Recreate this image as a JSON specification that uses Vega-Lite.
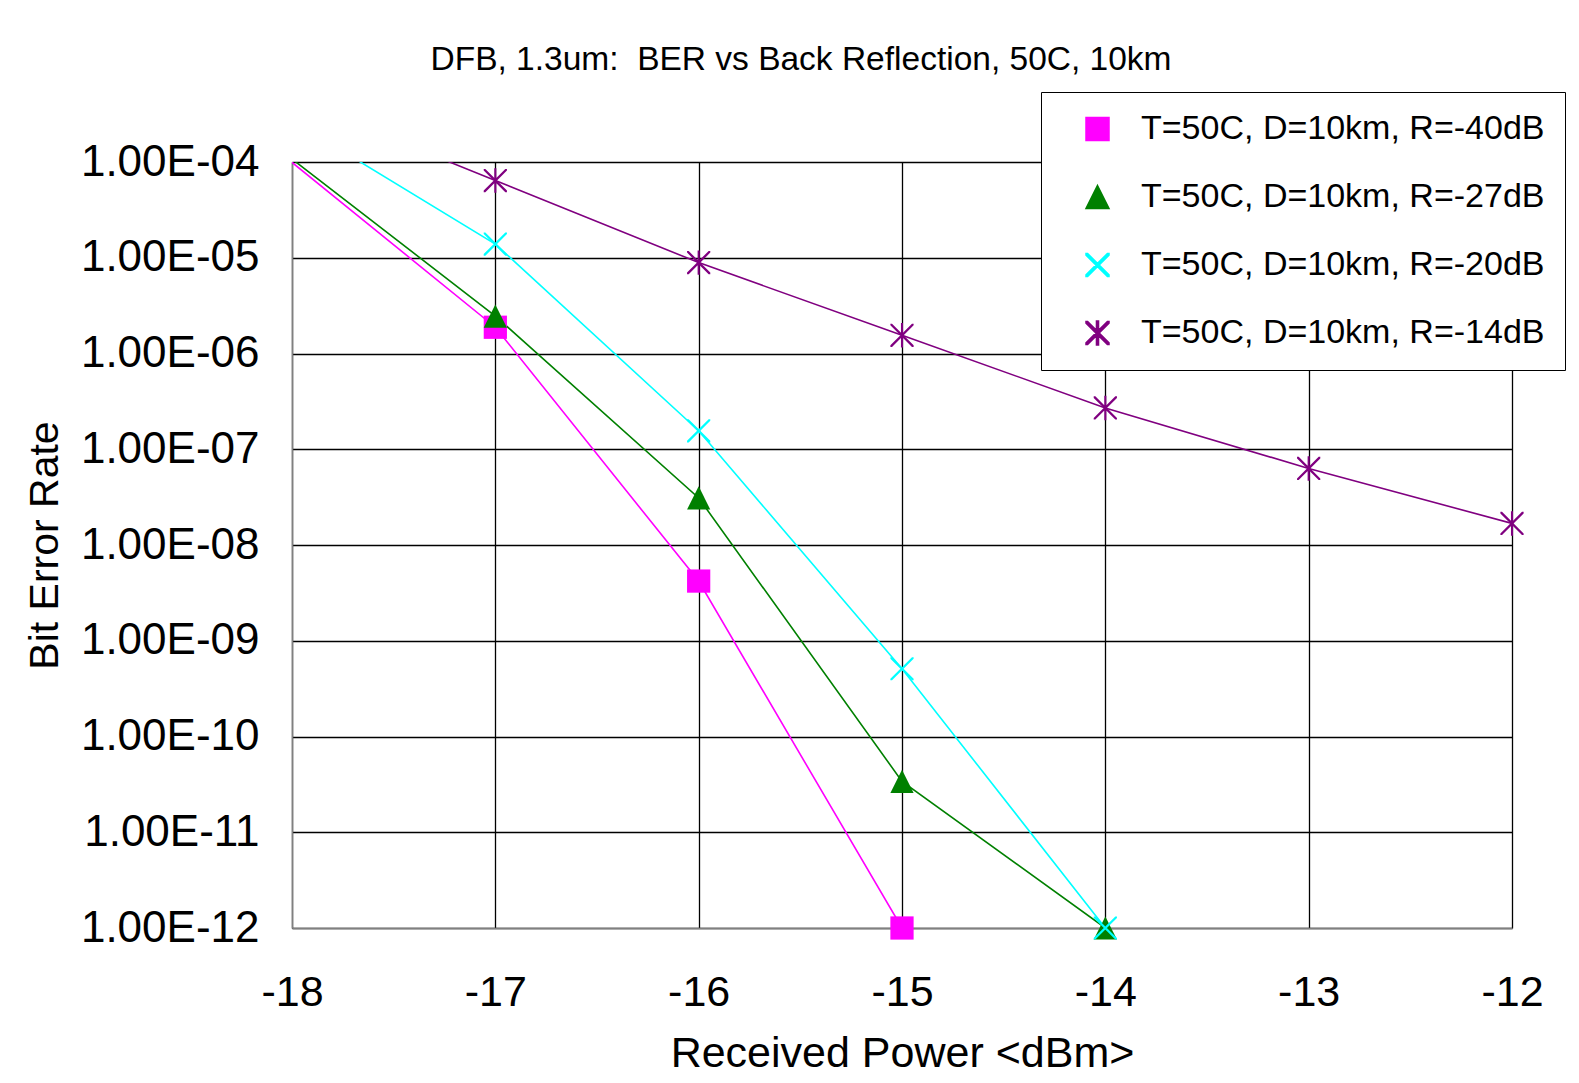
{
  "$schema": "https://vega.github.io/schema/vega-lite/v6.json",
  "width": 1220,
  "height": 766,
  "autosize": {"type": "none"},
  "padding": {"left": 292, "top": 162, "right": 67, "bottom": 155},
  "background": "white",
  "config": {
    "font": "Liberation Sans",
    "view": {"stroke": null},
    "axis": {
      "grid": true,
      "gridColor": "black",
      "gridWidth": 1.3,
      "gridOpacity": 1,
      "ticks": false,
      "tickSize": 0,
      "labelFlush": false,
      "labelOverlap": false,
      "domainColor": "#808080",
      "domainWidth": 1.5,
      "labelColor": "black",
      "titleColor": "black",
      "labelFont": "Liberation Sans",
      "titleFont": "Liberation Sans",
      "titleFontWeight": "normal"
    }
  },
  "title": {
    "text": "DFB, 1.3um:\u00a0 BER vs Back Reflection, 50C, 10km",
    "fontSize": 33.5,
    "font": "Liberation Sans",
    "fontWeight": "normal",
    "color": "black",
    "anchor": "middle",
    "frame": "group",
    "baseline": "alphabetic",
    "dx": -101,
    "offset": -12
  },
  "data": {
    "values": [
      {"x": -18.5, "ber": 7.2e-4, "series": "T=50C, D=10km, R=-40dB"},
      {"x": -17, "ber": 1.88e-6, "series": "T=50C, D=10km, R=-40dB"},
      {"x": -16, "ber": 4.2e-9, "series": "T=50C, D=10km, R=-40dB"},
      {"x": -15, "ber": 1e-12, "series": "T=50C, D=10km, R=-40dB"},
      {"x": -18.5, "ber": 7.1e-4, "series": "T=50C, D=10km, R=-27dB"},
      {"x": -17, "ber": 2.46e-6, "series": "T=50C, D=10km, R=-27dB"},
      {"x": -16, "ber": 3.1e-8, "series": "T=50C, D=10km, R=-27dB"},
      {"x": -15, "ber": 3.4e-11, "series": "T=50C, D=10km, R=-27dB"},
      {"x": -14, "ber": 1e-12, "series": "T=50C, D=10km, R=-27dB"},
      {"x": -18.5, "ber": 1.2e-3, "series": "T=50C, D=10km, R=-20dB"},
      {"x": -17, "ber": 1.39e-5, "series": "T=50C, D=10km, R=-20dB"},
      {"x": -16, "ber": 1.56e-7, "series": "T=50C, D=10km, R=-20dB"},
      {"x": -15, "ber": 5.1e-10, "series": "T=50C, D=10km, R=-20dB"},
      {"x": -14, "ber": 1e-12, "series": "T=50C, D=10km, R=-20dB"},
      {"x": -18.5, "ber": 1.25e-3, "series": "T=50C, D=10km, R=-14dB"},
      {"x": -17, "ber": 6.4e-5, "series": "T=50C, D=10km, R=-14dB"},
      {"x": -16, "ber": 8.9e-6, "series": "T=50C, D=10km, R=-14dB"},
      {"x": -15, "ber": 1.55e-6, "series": "T=50C, D=10km, R=-14dB"},
      {"x": -14, "ber": 2.7e-7, "series": "T=50C, D=10km, R=-14dB"},
      {"x": -13, "ber": 6.3e-8, "series": "T=50C, D=10km, R=-14dB"},
      {"x": -12, "ber": 1.68e-8, "series": "T=50C, D=10km, R=-14dB"}
    ]
  },
  "encoding": {
    "x": {
      "field": "x",
      "type": "quantitative",
      "scale": {"domain": [-18, -12], "nice": false, "zero": false},
      "axis": {
        "values": [-18, -17, -16, -15, -14, -13, -12],
        "labelExpr": "'' + datum.value",
        "labelFontSize": 43,
        "labelPadding": 43,
        "title": "Received Power <dBm>",
        "titleFontSize": 43,
        "titlePadding": 18
      }
    },
    "y": {
      "field": "ber",
      "type": "quantitative",
      "scale": {"type": "log", "domain": [1e-12, 1e-4], "nice": false},
      "axis": {
        "values": [1e-12, 1e-11, 1e-10, 1e-9, 1e-8, 1e-7, 1e-6, 1e-5, 1e-4],
        "labelExpr": "'1.00E-' + (round(-log(datum.value)/LN10) < 10 ? '0' : '') + round(-log(datum.value)/LN10)",
        "labelFontSize": 44,
        "labelPadding": 33,
        "labelBaseline": "middle",
        "title": "Bit Error Rate",
        "titleFontSize": 41,
        "titlePadding": 26
      }
    }
  },
  "layer": [
    {
      "mark": {"type": "line", "clip": true, "strokeWidth": 1.6},
      "encoding": {
        "stroke": {
          "field": "series",
          "type": "nominal",
          "scale": {
            "domain": ["T=50C, D=10km, R=-40dB", "T=50C, D=10km, R=-27dB", "T=50C, D=10km, R=-20dB", "T=50C, D=10km, R=-14dB"],
            "range": ["#FF00FF", "#008000", "#00FFFF", "#800080"]
          }
        }
      }
    },
    {
      "transform": [{"filter": "datum.x >= -18"}],
      "mark": {"type": "point", "filled": true, "opacity": 1, "size": 540, "strokeWidth": 0},
      "encoding": {
        "color": {
          "field": "series",
          "type": "nominal",
          "scale": {
            "domain": ["T=50C, D=10km, R=-40dB", "T=50C, D=10km, R=-27dB", "T=50C, D=10km, R=-20dB", "T=50C, D=10km, R=-14dB"],
            "range": ["#FF00FF", "#008000", "#00FFFF", "#800080"]
          },
          "legend": {
            "orient": "none",
            "legendX": 749,
            "legendY": -70,
            "title": null,
            "padding": 20,
            "strokeColor": "black",
            "fillColor": "white",
            "labelFontSize": 34,
            "labelFont": "Liberation Sans",
            "labelColor": "black",
            "labelLimit": 600,
            "symbolSize": 529,
            "symbolOffset": 19.5,
            "labelOffset": 26.5,
            "rowPadding": 34
          }
        },
        "shape": {
          "field": "series",
          "type": "nominal",
          "scale": {
            "domain": ["T=50C, D=10km, R=-40dB", "T=50C, D=10km, R=-27dB", "T=50C, D=10km, R=-20dB", "T=50C, D=10km, R=-14dB"],
            "range": [
              "M-1,-1H1V1H-1Z",
              "M0,-1L1,1H-1Z",
              "M-1,-1L-0.86,-1L1,0.86L1,1L0.86,1L-1,-0.86ZM1,-1L1,-0.86L-0.86,1L-1,1L-1,0.86L0.86,-1Z",
              "M-1,-1L-0.86,-1L1,0.86L1,1L0.86,1L-1,-0.86ZM1,-1L1,-0.86L-0.86,1L-1,1L-1,0.86L0.86,-1ZM-0.09,-1.05H0.09V1.05H-0.09Z"
            ]
          }
        }
      }
    }
  ]
}
